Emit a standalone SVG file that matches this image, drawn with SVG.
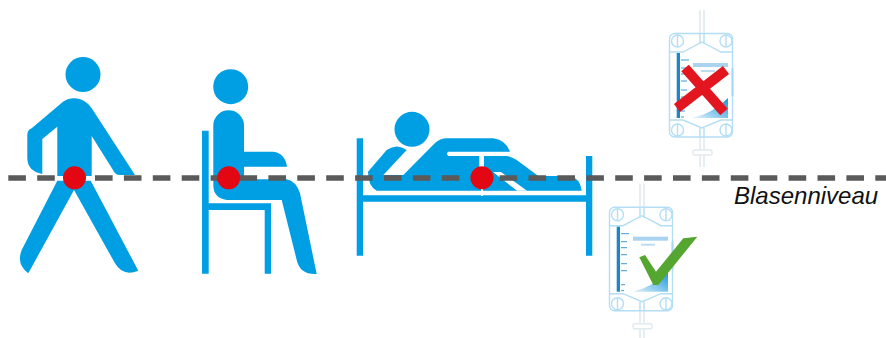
<svg xmlns="http://www.w3.org/2000/svg" xmlns:xlink="http://www.w3.org/1999/xlink" width="886" height="338" viewBox="0 0 886 338">
<style>
.b{fill:#009fe3}
.w{fill:#fff}
.dot{fill:#e30613}
.o{fill:none;stroke:#b4def5;stroke-width:1.4}
.t{fill:none;stroke:#e0eaef;stroke-width:1.6}
.tk{fill:none;stroke:#3f9bd6;stroke-width:1}
</style>
<defs>
<filter id="soft" x="-10%" y="-10%" width="120%" height="120%"><feGaussianBlur stdDeviation="0.7"/></filter>
<linearGradient id="wedge" x1="0" y1="1" x2="1" y2="0"><stop offset="0" stop-color="#e4f3fb"/><stop offset="0.5" stop-color="#7cc4ec"/><stop offset="1" stop-color="#1e93d6"/></linearGradient>
<g id="bag" filter="url(#soft)">
<path class="t" d="M700 10V33M704 10V33M700 137V167M704 137V167"/>
<rect x="693" y="150" width="19" height="5" rx="1.500" fill="#fff" stroke="#e0eaef" stroke-width="1.400"/>
<rect class="o" x="669.500" y="33.500" width="63" height="103.500" rx="5"/>
<path class="o" d="M670 52H683L702 42L721 52H733M670 120H683L702 128L721 120H733"/>
<path class="o" d="M700 33V44M704 33V44M700 128V137M704 128V137"/>
<g class="o"><circle cx="677.500" cy="41" r="6"/><circle cx="726" cy="41" r="6"/><circle cx="677.500" cy="130" r="6"/><circle cx="726" cy="130" r="6"/></g>
<path class="o" d="M677.500 35V47M726 35V47M677.500 124V136M726 124V136"/>
<rect x="676.700" y="53" width="3.300" height="65" fill="#1f86c6"/>
<path class="tk" d="M681 60H689M681 68H687M681 74H687M681 81H687M681 90H687M681 97H687M681 111H685M681 117H684"/>
<rect x="693" y="63" width="35" height="4" fill="#a9d3ee"/>
<rect x="701" y="70" width="14" height="2" fill="#bcdcf0"/>
<path d="M692 118Q712 114 728 98V118Z" fill="url(#wedge)"/>
<rect x="731.500" y="68" width="2" height="28" fill="#a4d8f4"/>
</g>
</defs>
<g id="walking-person">
<circle class="b" cx="83" cy="74.500" r="17.500"/>
<path class="b" d="M63 101.700Q68.500 98 75 98.300Q85 98.600 91.700 108.300L135 175H120Q115 175 113 170L91.700 136V176H57.300V126.700L42.300 139V174Q27.300 171 27.300 158V135Q27.300 130 31.700 128.300Z"/>
<path class="b" d="M57.300 180.700H90.700L138.300 270.700Q123 277 115 263.300L74 190L28.300 273.300Q16 264 21.700 250Z"/>
</g>
<g id="sitting-person">
<circle class="b" cx="230.700" cy="86.700" r="17.500"/>
<path class="b" d="M213.300 125.500A15.350 15.350 0 0 1 244 125.500V151.700H273.300Q285 153 287 166.700H244V179.300H286.700Q296 181 300 193.300L316.700 274Q300 275 296.700 260L281.700 200H226.700Q213.300 198 213.300 185Z"/>
<path class="b" d="M202 130.700H208.700V203.300H271V273.700H264.700V210H208.700V273.700H202Z"/>
</g>
<g id="lying-person">
<circle class="b" cx="412" cy="129.300" r="17.500"/>
<path class="b" d="M356.700 138.300H363V195.300H586V156H592.300V255.700H586V201.700H363V255.700H356.700Z"/>
<path class="b" d="M376.700 190.700Q368 186 368 171.700L386.700 150Q397 143 406.700 150L383.300 175H403.300L435 143Q440 138.300 446.700 138.300H493.300Q506 140 510 151.700H448.300Q445.500 153.800 448.300 156H479.300V172H484V156H506.700Q512 157 516.700 160L538.300 176H570Q580 178 581.700 190.700Z"/>
<path class="w" d="M493 172H501L527 190.700H517Z"/>
<rect class="w" x="481" y="186" width="2" height="10"/>
</g>
<g id="bag-high"><use xlink:href="#bag" href="#bag"/>
<path d="M685 68L724 112M726 70L677 108" fill="none" stroke="#e3151f" stroke-width="10"/>
</g>
<g id="bag-low"><use xlink:href="#bag" href="#bag" transform="translate(-60 173.700)"/>
<path d="M639.300 257.300L645 255L656 271.700L683.300 238.300L697.300 236.700L658.300 285H653.300Z" fill="#55a630"/>
</g>
<g id="connectors">
<line x1="8.300" y1="178" x2="886" y2="178" stroke="#5a5a5a" stroke-width="5.600" stroke-dasharray="17.600 11.300"/>
</g>
<g id="bladder-points">
<circle class="dot" cx="74.500" cy="177.800" r="11.500"/>
<circle class="dot" cx="228.700" cy="177.800" r="11.500"/>
<circle class="dot" cx="482" cy="177.800" r="11.500"/>
</g>
<text id="label" x="734" y="204" font-family="Liberation Sans, Arial, sans-serif" font-style="italic" font-size="24" fill="#111">Blasenniveau</text>
</svg>
